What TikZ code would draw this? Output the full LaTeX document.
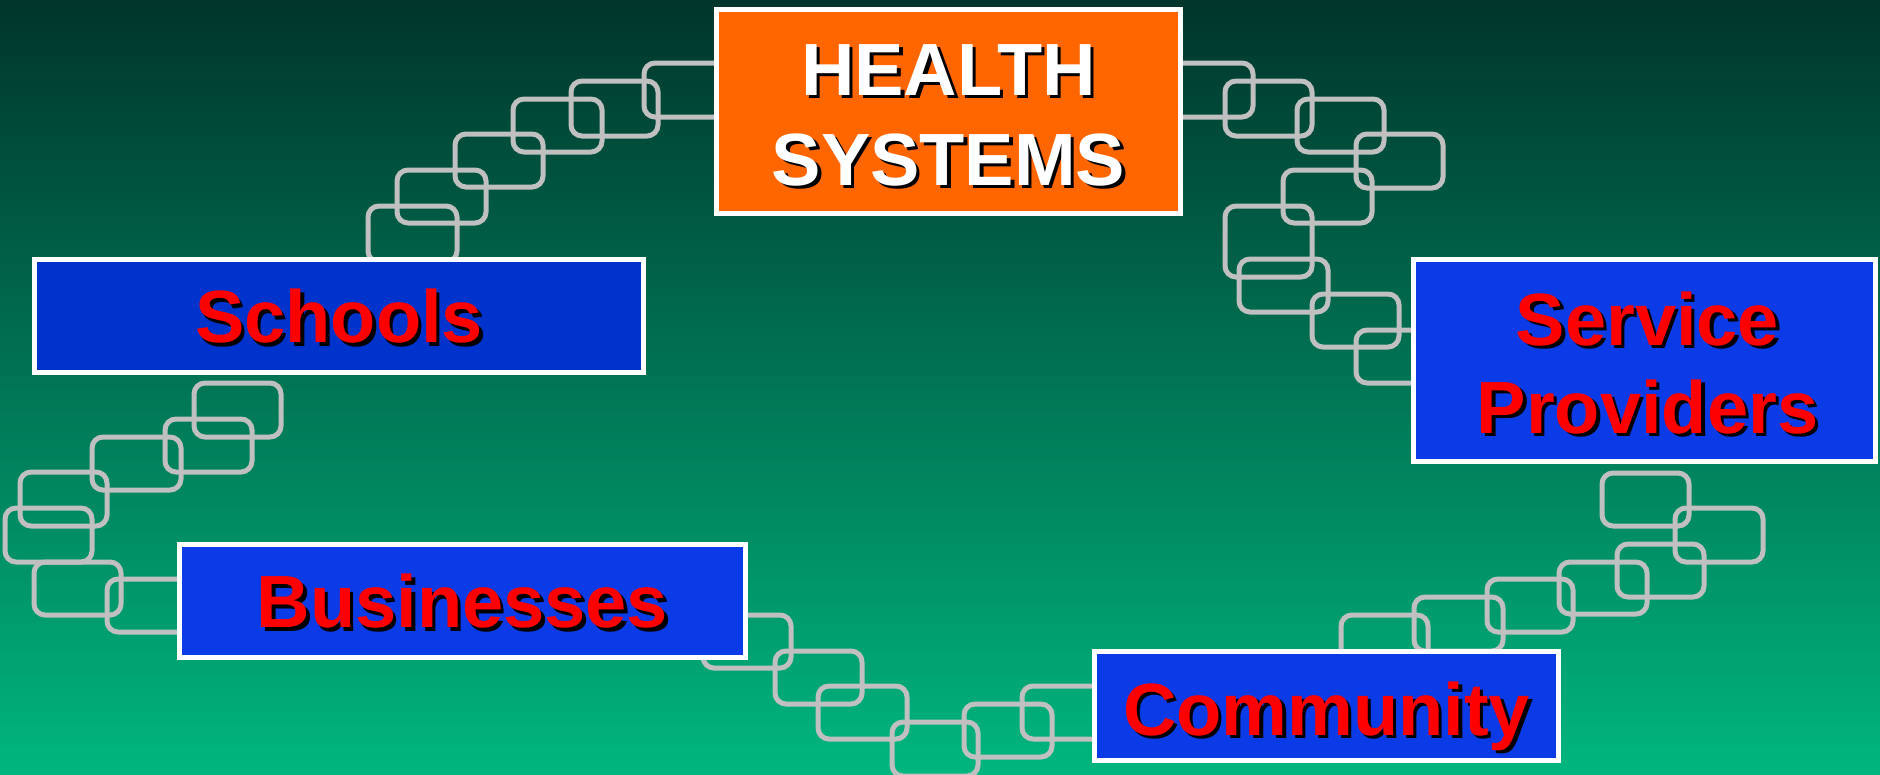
\documentclass[tikz,border=0pt]{standalone}
\usepackage{fontspec}
\setmainfont{Liberation Sans}
\usetikzlibrary{calc}
\definecolor{bgtop}{HTML}{00352B}
\definecolor{bgmid}{HTML}{006A4E}
\definecolor{bgbot}{HTML}{00B67E}
\definecolor{linkgray}{HTML}{C0C0C0}
\definecolor{hsorange}{HTML}{FF6600}
\definecolor{darkblue}{HTML}{0033CC}
\definecolor{brightblue}{HTML}{0A3BE6}
\definecolor{txtred}{HTML}{FF0000}
\tikzset{
  link/.style={draw=linkgray, line width=5pt, rounded corners=11pt},
  box/.style={draw=white, line width=5pt, inner sep=0pt},
  lbl/.style={inner sep=0pt, anchor=base, font=\fontsize{74}{90}\selectfont\bfseries},
  shad/.style={lbl, text=black},
}
\begin{document}
\begin{tikzpicture}[x=1pt,y=-1pt]
\useasboundingbox (0,0) rectangle (1880,774);
\shade[top color=bgtop, middle color=bgmid, bottom color=bgbot] (0,0) rectangle (1880,774);
% top-left chain
\foreach \a/\b/\c/\d in {644/63/732/117, 571/81/658/136, 513/99/602/152, 455/134/543/187, 397/170/486/223, 368/206/457/262}
  \draw[link] (\a,\b) rectangle (\c,\d);
% top-right chain
\foreach \a/\b/\c/\d in {1165/63/1253/117, 1225/81/1312/136, 1297/99/1384/152, 1356/134/1443/188, 1283/170/1372/223, 1225/206/1312/277, 1239/259/1328/312, 1312/294/1399/347, 1356/330/1444/383}
  \draw[link] (\a,\b) rectangle (\c,\d);
% left chain
\foreach \a/\b/\c/\d in {194/383/281/437, 165/419/252/472, 92/437/181/490, 20/472/107/526, 5/508/92/562, 34/562/121/615, 107/579/195/632}
  \draw[link] (\a,\b) rectangle (\c,\d);
% bottom chain
\foreach \a/\b/\c/\d in {703/615/791/668, 775/651/862/704, 818/686/907/739, 892/722/978/776, 964/704/1052/757, 1022/686/1110/739}
  \draw[link] (\a,\b) rectangle (\c,\d);
% right-bottom chain
\foreach \a/\b/\c/\d in {1602/473/1689/526, 1675/508/1763/562, 1617/544/1704/597, 1559/562/1647/614, 1487/579/1573/632, 1414/597/1503/651, 1341/615/1428/668}
  \draw[link] (\a,\b) rectangle (\c,\d);
% boxes
\node[box, fill=hsorange, minimum width=464pt, minimum height=204pt] (health) at (948.5,111.5) {};
\node[box, fill=darkblue, minimum width=609pt, minimum height=113pt] (schools) at (339,316) {};
\node[box, fill=brightblue, minimum width=462pt, minimum height=202pt] (service) at (1644.5,360.5) {};
\node[box, fill=brightblue, minimum width=566pt, minimum height=113pt] (business) at (462.5,601) {};
\node[box, fill=brightblue, minimum width=464pt, minimum height=109pt] (community) at (1326.5,706) {};
% labels with drop shadows
\node[shad] (h1s) at (952,98.5) {HEALTH};
\node[lbl, text=white] (h1) at (948.5,95) {HEALTH};
\node[shad] (h2s) at (952,188.5) {SYSTEMS};
\node[lbl, text=white] (h2) at (948.5,185) {SYSTEMS};
\node[shad] (scs) at (342.5,346) {Schools};
\node[lbl, text=txtred] (sc) at (339,342.5) {Schools};
\node[shad] (sv1s) at (1651,348.5) {Service};
\node[lbl, text=txtred] (sv1) at (1647.5,345) {Service};
\node[shad] (sv2s) at (1651,436.5) {Providers};
\node[lbl, text=txtred] (sv2) at (1647.5,433) {Providers};
\node[shad] (bus) at (466,631) {Businesses};
\node[lbl, text=txtred] (bu) at (462.5,627.5) {Businesses};
\node[shad] (cos) at (1330,738.5) {Community};
\node[lbl, text=txtred] (co) at (1326.5,735) {Community};
\end{tikzpicture}
\end{document}
